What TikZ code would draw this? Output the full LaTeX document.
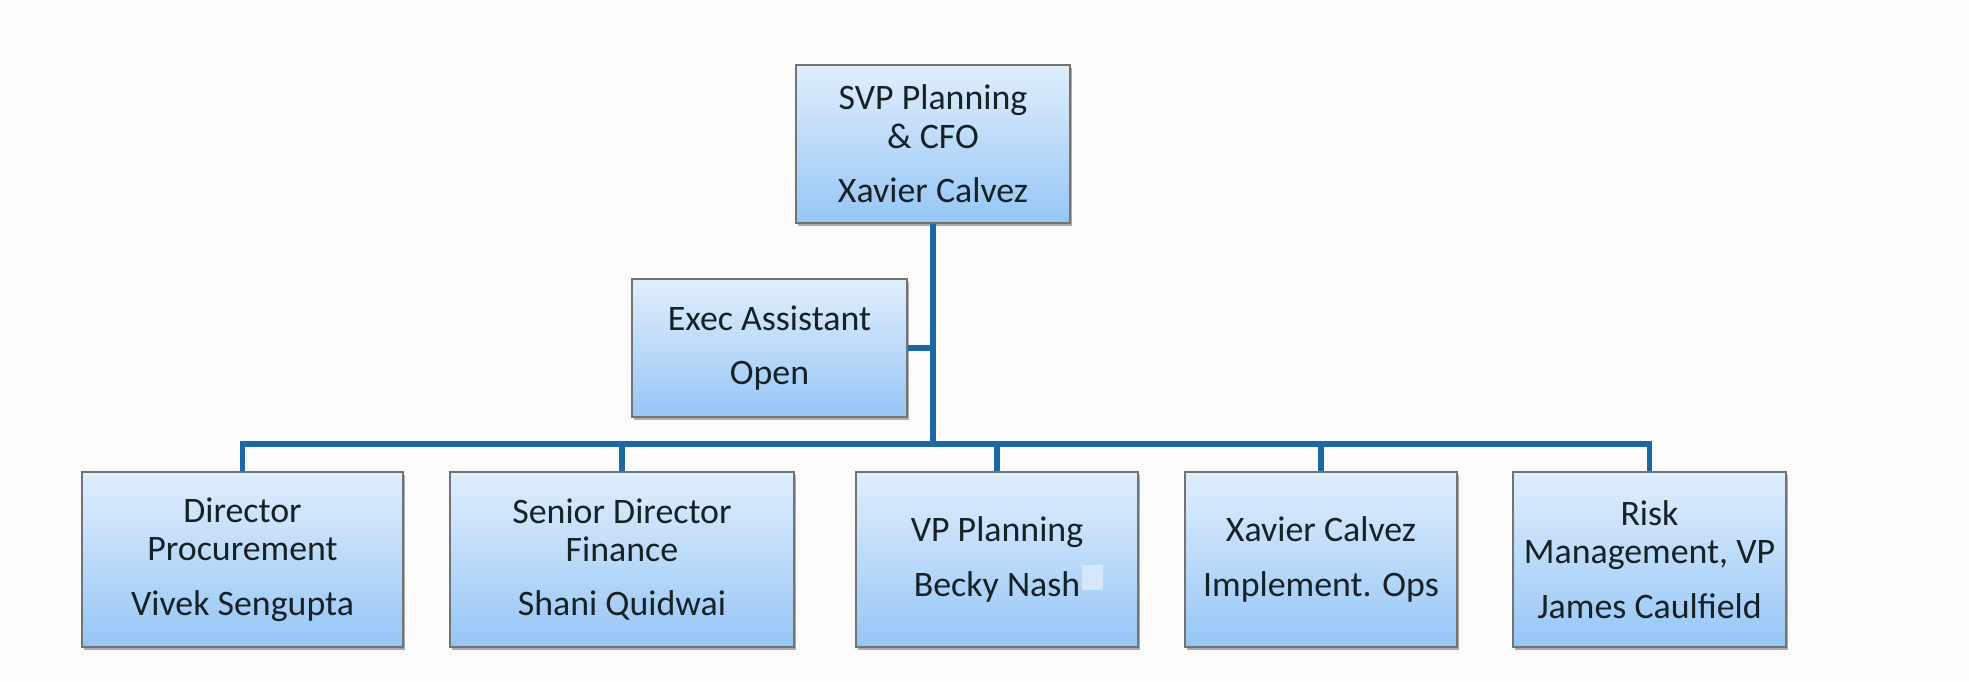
\documentclass[tikz,border=0pt]{standalone}
\usepackage{fontspec}
\setmainfont{Carlito}
\usepackage{tikz}
\usetikzlibrary{shadows, positioning}
\definecolor{BoxTop}{RGB}{224,238,252}
\definecolor{BoxBot}{RGB}{150,198,246}
\definecolor{BoxEdge}{RGB}{115,115,115}
\definecolor{LineBlue}{RGB}{27,104,163}
\definecolor{InkDark}{RGB}{22,34,38}
\definecolor{PaperBg}{RGB}{251,251,251}
\tikzset{post/.style={rectangle, draw=BoxEdge, line width=.6pt, top color=BoxTop, bottom color=BoxBot,
    align=center, inner sep=1pt, text=InkDark, font=\fontsize{10.2}{10.9}\selectfont,
    drop shadow={shadow xshift=.7pt, shadow yshift=-.9pt, opacity=.45, fill=black!70}}}
\tikzset{link/.style={draw=LineBlue, line width=1.5pt}}
\newcommand{\gap}{4.6pt}
\newcommand{\rowy}{1.215}

\begin{document}
\begin{tikzpicture}[thick]

  \fill[PaperBg] (0,0) rectangle (19.69,6.81);
  \useasboundingbox (0,0) rectangle (19.69,6.81);

  % --- top and assistant ---
  \node[post, minimum width=2.74cm, minimum height=1.58cm] (svp) at (9.33,5.37)
       {SVP Planning\\\& CFO\\[\gap]Xavier Calvez};
  \node[post, minimum width=2.75cm, minimum height=1.38cm] (exec) at (7.695,3.33)
       {Exec Assistant\\[\gap]Open};

  % --- bottom row ---
  \node[post, minimum width=3.21cm, minimum height=1.75cm] (proc) at (2.425,\rowy)
       {Director\\Procurement\\[\gap]Vivek Sengupta};
  \node[post, minimum width=3.44cm, minimum height=1.75cm] (fin) at (6.22,\rowy)
       {Senior Director\\Finance\\[\gap]Shani Quidwai};
  \node[post, minimum width=2.82cm, minimum height=1.75cm] (plan) at (9.97,\rowy)
       {VP Planning\\[\gap]Becky Nash};
  \node[post, minimum width=2.72cm, minimum height=1.75cm] (ops) at (13.21,\rowy)
       {Xavier Calvez\\[\gap]Implement. Ops};
  \node[post, minimum width=2.73cm, minimum height=1.75cm] (risk) at (16.495,\rowy)
       {Risk\\Management, VP\\[\gap]James Caulfield};

  % stray patch next to the name
  \fill[BoxTop!85!BoxBot] (10.82,0.91) rectangle (11.03,1.16);

  % --- connectors ---
  \coordinate (bus) at (9.33,2.37);
  \draw[link] (svp) -- (bus);
  \draw[link] (exec.east) -- (exec.east -| svp);
  \draw[link] (proc.north) |- (bus) -| (risk.north);
  \draw[link] (fin.north) -- (fin.north |- bus);
  \draw[link] (plan.north) -- (plan.north |- bus);
  \draw[link] (ops.north) -- (ops.north |- bus);

\end{tikzpicture}
\end{document}
